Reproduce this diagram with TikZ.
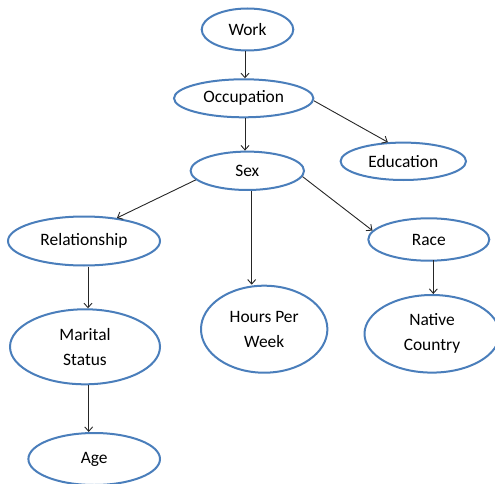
\documentclass[tikz,border=0pt]{standalone}
\usepackage{fontspec}
\setmainfont{Carlito}
\usetikzlibrary{shapes.geometric,arrows.meta}
\definecolor{nodeblue}{RGB}{74,126,187}
\begin{document}
\begin{tikzpicture}[x=1pt,y=-1pt,
  var/.style={ellipse, draw=nodeblue, line width=2pt, inner sep=0pt,
    align=center, font=\fontsize{17.4}{25}\selectfont},
  arr/.style={draw=black!85, line width=0.9pt,
    -{Straight Barb[length=4.5pt,width=8pt,line width=0.9pt]}}]
\useasboundingbox (0,0) rectangle (495,484);

% variables
\node[var, minimum width=91.6, minimum height=42]   (work)    at (247.5,29.5)  {Work};
\node[var, minimum width=139.4, minimum height=38]  (occ)     at (243.7,98.3)  {Occupation};
\node[var, minimum width=125.4, minimum height=37.4](edu)     at (403.3,161.3) {Education};
\node[var, minimum width=113.4, minimum height=38.4](sex)     at (247.3,170.8) {Sex};
\node[var, minimum width=152, minimum height=49]    (rel)     at (84,241)      {Relationship};
\node[var, minimum width=121, minimum height=42.4]  (race)    at (428.8,239.5) {Race};
\node[var, minimum width=126.4, minimum height=87]  (hours)   at (264.2,329.2) {Hours Per\\Week};
\node[var, minimum width=135, minimum height=77.6]  (native)  at (432,333.8)   {Native\\Country};
\node[var, minimum width=150, minimum height=75]    (marital) at (85,346.8)    {Marital\\Status};
\node[var, minimum width=131.6, minimum height=52]  (age)     at (94.2,459)    {Age};

% dependencies
\draw[arr] ([xshift=-2.5pt]work.south) -- ([xshift=1.3pt]occ.north);
\draw[arr] ([xshift=1.3pt]occ.south) -- ([xshift=-2.3pt]sex.north);
\draw[arr] (occ.358) -- (edu.129);
\draw[arr] (sex.190) -- (rel.35);
\draw[arr] ([xshift=4.4pt]sex.south) -- ([xshift=-12.5pt]hours.north);
\draw[arr] (sex.354) -- (race.171);
\draw[arr] ([xshift=4pt]rel.south) -- ([xshift=3pt]marital.north);
\draw[arr] ([xshift=4.5pt,yshift=1.5pt]race.south) -- ([xshift=1.3pt]native.north);
\draw[arr] ([xshift=3.7pt]marital.south) -- ([xshift=-5.5pt]age.north);
\end{tikzpicture}
\end{document}
